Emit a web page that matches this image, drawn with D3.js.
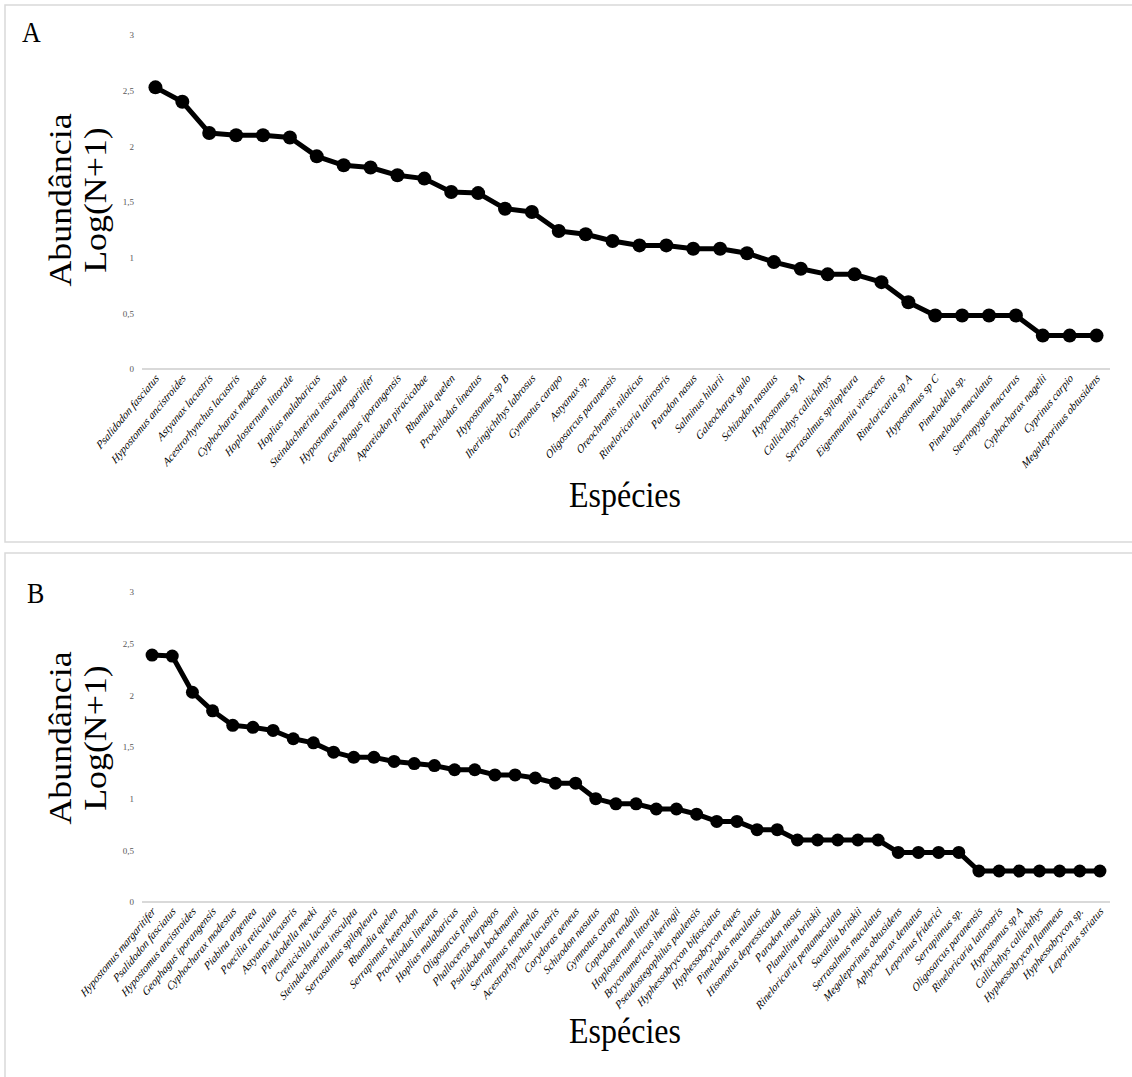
<!DOCTYPE html>
<html><head><meta charset="utf-8">
<script src="https://cdn.jsdelivr.net/npm/d3@7"></script>
<style>body{margin:0;background:#fff}svg{display:block}svg text{font-family:"Liberation Serif","Times New Roman",serif}</style>
</head><body>
<script>
const speciesA = ["Psalidodon fasciatus","Hypostomus ancistroides","Astyanax lacustris","Acestrorhynchus lacustris","Cyphocharax modestus","Hoplosternum littorale","Hoplias malabaricus","Steindachnerina insculpta","Hypostomus margaritifer","Geophagus iporangensis","Apareiodon piracicabae","Rhamdia quelen","Prochilodus lineatus","Hypostomus sp B","Iheringichthys labrosus","Gymnotus carapo","Astyanax sp.","Oligosarcus paranensis","Oreochromis niloticus","Rineloricaria latirostris","Parodon nasus","Salminus hilarii","Galeocharax gulo","Schizodon nasutus","Hypostomus sp A","Callichthys callichthys","Serrasalmus spilopleura","Eigenmannia virescens","Rineloricaria sp A","Hypostomus sp C","Pimelodella sp.","Pimelodus maculatus","Sternopygus macrurus","Cyphocharax nagelii","Cyprinus carpio","Megaleporinus obtusidens"];
const valuesA = [2.53,2.40,2.12,2.10,2.10,2.08,1.91,1.83,1.81,1.74,1.71,1.59,1.58,1.44,1.41,1.24,1.21,1.15,1.11,1.11,1.08,1.08,1.04,0.96,0.90,0.85,0.85,0.78,0.60,0.48,0.48,0.48,0.48,0.30,0.30,0.30];
const speciesB = ["Hypostomus margaritifer","Psalidodon fasciatus","Hypostomus ancistroides","Geophagus iporangensis","Cyphocharax modestus","Piabina argentea","Poecilia reticulata","Astyanax lacustris","Pimelodella meeki","Crenicichla lacustris","Steindachnerina insculpta","Serrasalmus spilopleura","Rhamdia quelen","Serrapinnus heterodon","Prochilodus lineatus","Hoplias malabaricus","Oligosarcus pintoi","Phalloceros harpagos","Psalidodon bockmanni","Serrapinnus notomelas","Acestrorhynchus lacustris","Corydoras aeneus","Schizodon nasutus","Gymnotus carapo","Coptodon rendalli","Hoplosternum littorale","Bryconamericus iheringii","Pseudostegophilus paulensis","Hyphessobrycon bifasciatus","Hyphessobrycon eques","Pimelodus maculatus","Hisonotus depressicauda","Parodon nasus","Planaltina britskii","Rineloricaria pentamaculata","Saxatilia britskii","Serrasalmus maculatus","Megaleporinus obtusidens","Aphyocharax dentatus","Leporinus friderici","Serrapinnus sp.","Oligosarcus paranensis","Rineloricaria latirostris","Hypostomus sp A","Callichthys callichthys","Hyphessobrycon flammeus","Hyphessobrycon sp.","Leporinus striatus"];
const valuesB = [2.39,2.38,2.03,1.85,1.71,1.69,1.66,1.58,1.54,1.45,1.40,1.40,1.36,1.34,1.32,1.28,1.28,1.23,1.23,1.20,1.15,1.15,1.00,0.95,0.95,0.90,0.90,0.85,0.78,0.78,0.70,0.70,0.60,0.60,0.60,0.60,0.60,0.48,0.48,0.48,0.48,0.30,0.30,0.30,0.30,0.30,0.30,0.30];
const yTicks = [0,0.5,1,1.5,2,2.5,3];
const panelLetters = ["A","B"];
const xTitle = "Espécies";
const yTitle1 = "Abundância";
const yTitle2 = "Log(N+1)";

const svg = d3.select("body").append("svg").attr("width",1132).attr("height",1077);

function panel(cfg){
  const g = svg.append("g");
  g.append("rect").attr("x",cfg.box[0]).attr("y",cfg.box[1]).attr("width",cfg.box[2]).attr("height",cfg.box[3])
    .attr("fill","#fff").attr("stroke","#d9d9d9").attr("stroke-width",1.5);
  const x = d3.scaleBand().domain(cfg.species).range([142,1110]);
  const y = d3.scaleLinear().domain([0,3]).range([cfg.y0,cfg.y3]);
  const ya = d3.axisLeft(y).tickValues(yTicks).tickSize(0).tickPadding(0)
    .tickFormat(d=>d3.format("~g")(d).replace(".",","));
  const yg = g.append("g").attr("transform","translate(134,0)").call(ya);
  yg.attr("font-family",null);
  yg.select(".domain").remove();
  yg.selectAll("text").attr("font-size",9).attr("fill","#595959");
  g.append("line").attr("x1",142).attr("x2",1110).attr("y1",y(0)).attr("y2",y(0))
    .attr("stroke","#d9d9d9").attr("stroke-width",2);
  const xa = d3.axisBottom(x).tickSize(0).tickPadding(0);
  const xg = g.append("g").attr("transform",`translate(0,${y(0)})`).call(xa);
  xg.attr("font-family",null);
  xg.select(".domain").remove();
  xg.selectAll("text").attr("font-style","italic").attr("font-size",cfg.fs)
    .attr("fill","#000").attr("text-anchor","end").attr("dy",0).attr("y",0)
    .attr("transform",`translate(4,10) scale(1,${cfg.stretch}) rotate(-45)`);
  const data = cfg.species.map((s,i)=>({s,v:cfg.values[i]}));
  const cx = d=>x(d.s)+x.bandwidth()/2;
  g.append("path").datum(data).attr("fill","none").attr("stroke","#000").attr("stroke-width",cfg.lw)
    .attr("stroke-linejoin","round").attr("d",d3.line().x(cx).y(d=>y(d.v)));
  g.selectAll("circle.m").data(data).join("circle").attr("class","m")
    .attr("cx",cx).attr("cy",d=>y(d.v)).attr("r",cfg.r).attr("fill","#000");
  g.append("text").attr("transform",`translate(${cfg.letterX},${cfg.letterY}) scale(1,1.15)`).attr("font-size",26).text(cfg.letter);
  g.append("text").attr("transform",`translate(625,${cfg.xTitleY}) scale(1,1.15)`).attr("text-anchor","middle")
    .attr("font-size",32).text(xTitle);
  g.append("text").attr("transform",`translate(71,${cfg.yTitleC}) scale(1,1.12) rotate(-90)`).attr("text-anchor","middle")
    .attr("font-size",32).text(yTitle1);
  g.append("text").attr("transform",`translate(106,${cfg.yTitleC}) scale(1,1.12) rotate(-90)`).attr("text-anchor","middle")
    .attr("font-size",32).text(yTitle2);
}

panel({box:[5,5,1140,537],species:speciesA,values:valuesA,y0:369,y3:35,fs:10,stretch:1.2,lw:5,r:7,
  letter:panelLetters[0],letterX:22,letterY:42,xTitleY:507,yTitleC:200});
panel({box:[5,553,1140,540],species:speciesB,values:valuesB,y0:902,y3:592,fs:10,stretch:1.2,lw:5,r:6.5,
  letter:panelLetters[1],letterX:27,letterY:603,xTitleY:1043,yTitleC:738});
</script>
</body></html>
